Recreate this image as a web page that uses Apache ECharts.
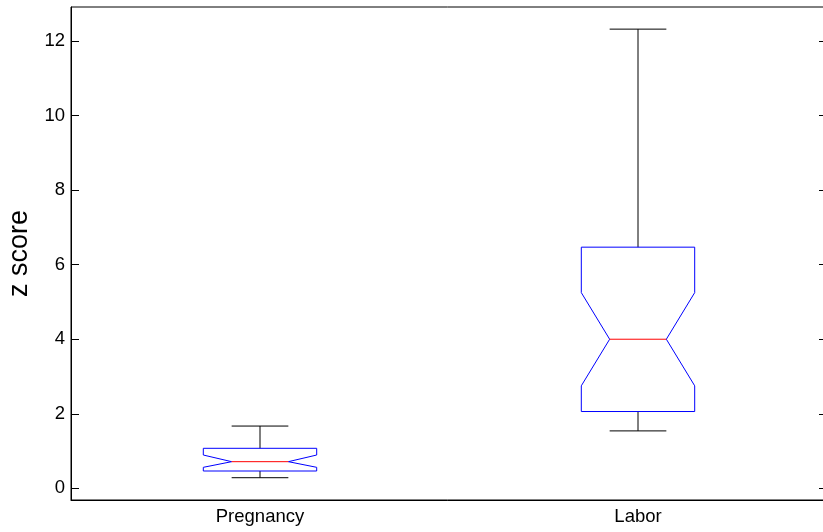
<!DOCTYPE html>
<html>
<head>
<meta charset="utf-8">
<script src="https://cdn.jsdelivr.net/npm/echarts@6/dist/echarts.min.js"></script>
<style>
html,body{margin:0;padding:0;background:#fff;}
#chart{width:823px;height:532px;}
</style>
</head>
<body>
<div id="chart"></div>
<script>
// Data
var categories = ['Pregnancy', 'Labor'];
var whiskerLow  = [0.284, 1.54];
var q1          = [0.464, 2.06];
var notchLow    = [0.563, 2.75];
var median      = [0.714, 4.00];
var notchHigh   = [0.893, 5.25];
var q3          = [1.073, 6.47];
var whiskerHigh = [1.67, 12.32];
var yTicks = [0, 2, 4, 6, 8, 10, 12];

var boxData = categories.map(function (c, i) {
  return [i, whiskerLow[i], q1[i], notchLow[i], median[i], notchHigh[i], q3[i], whiskerHigh[i]];
});

function renderBox(params, api) {
  var idx = api.value(0);
  var band = api.size([1, 0])[0];
  var cx = api.coord([idx, 0])[0];
  var hw = band * 0.15;
  var inset = hw * 0.5;
  var capHw = band * 0.075;
  function y(v) { return api.coord([idx, v])[1]; }
  var yWl = y(api.value(1)), yQ1 = y(api.value(2)), yNl = y(api.value(3)),
      yMed = y(api.value(4)), yNh = y(api.value(5)), yQ3 = y(api.value(6)), yWh = y(api.value(7));
  var L = cx - hw, R = cx + hw;
  var black = {stroke: '#000', lineWidth: 1, fill: null};
  return {
    type: 'group',
    children: [
      {type: 'line', shape: {x1: cx, y1: yQ3, x2: cx, y2: yWh}, style: black},
      {type: 'line', shape: {x1: cx - capHw, y1: yWh, x2: cx + capHw, y2: yWh}, style: black},
      {type: 'line', shape: {x1: cx, y1: yQ1, x2: cx, y2: yWl}, style: black},
      {type: 'line', shape: {x1: cx - capHw, y1: yWl, x2: cx + capHw, y2: yWl}, style: black},
      {type: 'polygon', shape: {points: [
        [L, yQ3], [R, yQ3], [R, yNh], [R - inset, yMed], [R, yNl], [R, yQ1],
        [L, yQ1], [L, yNl], [L + inset, yMed], [L, yNh]
      ]}, style: {stroke: '#0000ff', lineWidth: 1, fill: null}},
      {type: 'line', shape: {x1: L + inset, y1: yMed, x2: R - inset, y2: yMed}, style: {stroke: '#ff0000', lineWidth: 1}}
    ]
  };
}

var chart = echarts.init(document.getElementById('chart'));
chart.setOption({
  animation: false,
  backgroundColor: '#fff',
  textStyle: {fontFamily: 'Liberation Sans, Arial, sans-serif'},
  grid: {left: 71, top: 7, width: 756, height: 493, outerBoundsMode: 'none', containLabel: false,
         show: true, borderColor: '#000', borderWidth: 1, backgroundColor: 'transparent'},
  xAxis: {
    type: 'category',
    data: categories,
    boundaryGap: true,
    axisLine: {show: true, onZero: false, lineStyle: {color: '#000', width: 1}},
    axisTick: {show: false},
    axisLabel: {color: '#000', fontSize: 18.5, margin: 7, fontFamily: 'Liberation Sans'},
    splitLine: {show: false}
  },
  yAxis: [{
    type: 'value',
    min: -0.314, max: 12.914,
    name: 'z score',
    nameLocation: 'middle',
    nameRotate: 90,
    nameGap: 38,
    nameTextStyle: {color: '#000', fontSize: 27, fontFamily: 'Liberation Sans'},
    axisLine: {show: true, lineStyle: {color: '#000', width: 1}},
    axisTick: {show: true, inside: true, length: 8, customValues: yTicks, lineStyle: {color: '#000'}},
    axisLabel: {color: '#000', fontSize: 18.5, margin: 6, customValues: yTicks, fontFamily: 'Liberation Sans'},
    splitLine: {show: false}
  }, {
    type: 'value',
    position: 'right',
    min: -0.314, max: 12.914,
    axisLine: {show: false},
    axisTick: {show: true, inside: true, length: 8, customValues: yTicks, lineStyle: {color: '#000'}},
    axisLabel: {show: false},
    splitLine: {show: false}
  }],
  series: [{
    type: 'custom',
    renderItem: renderBox,
    data: boxData,
    encode: {x: 0, y: [1, 2, 3, 4, 5, 6, 7]},
    z: 5
  }]
});
</script>
</body>
</html>
